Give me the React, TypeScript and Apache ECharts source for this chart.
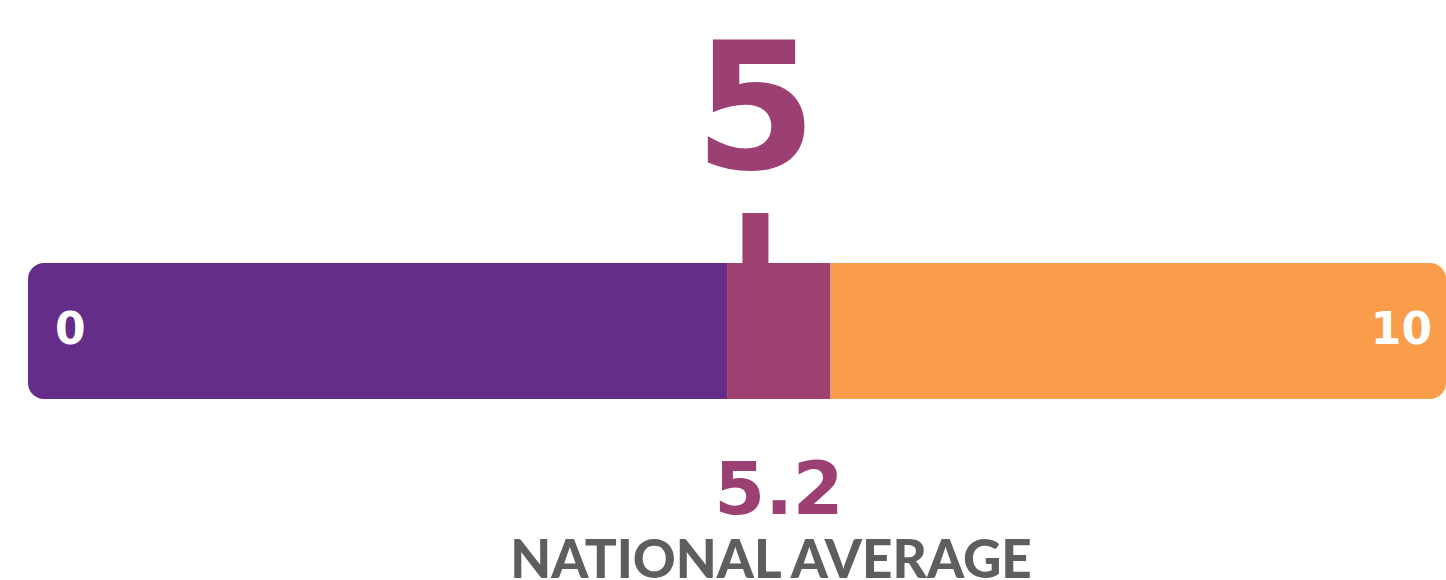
import React, { useEffect, useRef } from "react";
import * as echarts from "echarts";

const categories = ["score"];
const segmentLow = [4.93];
const segmentBand = [0.73];
const segmentHigh = [4.34];
const markerPosition = [5.13];
const scoreLabel = "5";
const nationalAverage = 5.2;
const nationalLabel = "NATIONAL AVERAGE";
const axisMin = 0;
const axisMax = 10;

const DIGIT_FONT = "'DejaVu Sans'";
const WORD_FONT = "Lato";

export default function App() {
  const ref = useRef<HTMLDivElement>(null);
  useEffect(() => {
    document.body.style.margin = "0";
    const chart = echarts.init(ref.current!, null, { renderer: "svg" });
    chart.setOption({
      animation: false,
      grid: { left: 28, right: 0, top: 263, height: 136, containLabel: false },
      xAxis: {
        type: "value",
        min: axisMin,
        max: axisMax,
        interval: 10,
        axisLine: { show: false },
        axisTick: { show: false },
        splitLine: { show: false },
        axisLabel: {
          margin: -71,
          verticalAlign: "middle",
          alignMinLabel: "left",
          alignMaxLabel: "right",
          formatter: (v: number) => (v === axisMin ? `{l|${v}}` : `{r|${v}}`),
          rich: {
            l: { color: "#fff", fontFamily: DIGIT_FONT, fontWeight: "bold", fontSize: 44, padding: [0, 0, 0, 27] },
            r: { color: "#fff", fontFamily: DIGIT_FONT, fontWeight: "bold", fontSize: 44, padding: [0, 14, 0, 0] },
          },
        },
        z: 10,
      },
      yAxis: { type: "category", data: categories, show: false },
      series: [
        {
          type: "bar",
          stack: "s",
          data: segmentLow,
          barWidth: 136,
          itemStyle: { color: "#652d89", borderRadius: [16, 0, 0, 16] },
        },
        {
          type: "bar",
          stack: "s",
          data: segmentBand,
          barWidth: 136,
          itemStyle: { color: "#9e4170" },
        },
        {
          type: "bar",
          stack: "s",
          data: segmentHigh,
          barWidth: 136,
          itemStyle: { color: "#f99d4b", borderRadius: [0, 16, 16, 0] },
        },
        {
          type: "scatter",
          data: markerPosition.map((x, i) => [x, categories[i]]),
          symbol: "rect",
          symbolSize: [26, 50],
          symbolOffset: [0, -93],
          itemStyle: { color: "#9e4170", opacity: 1 },
          label: {
            show: true,
            position: "top",
            distance: 17,
            formatter: () => scoreLabel,
            color: "#9c3f72",
            fontFamily: DIGIT_FONT,
            fontWeight: "bold",
            fontSize: 176,
            lineHeight: 176,
          },
          emphasis: { disabled: true },
          z: 5,
        },
      ],
      graphic: [
        {
          type: "text",
          x: 779,
          y: 488,
          style: {
            text: nationalAverage.toFixed(1),
            fill: "#9c3f72",
            font: `bold 73px ${DIGIT_FONT}`,
            align: "center",
            verticalAlign: "middle",
          },
        },
        {
          type: "text",
          x: 771,
          y: 557,
          style: {
            text: nationalLabel,
            fill: "#5d5e60",
            font: `900 53px ${WORD_FONT}`,
            lineHeight: 40,
            align: "center",
            verticalAlign: "middle",
          },
        },
      ],
    });
    return () => chart.dispose();
  }, []);
  return <div ref={ref} style={{ width: 1446, height: 580 }} />;
}
